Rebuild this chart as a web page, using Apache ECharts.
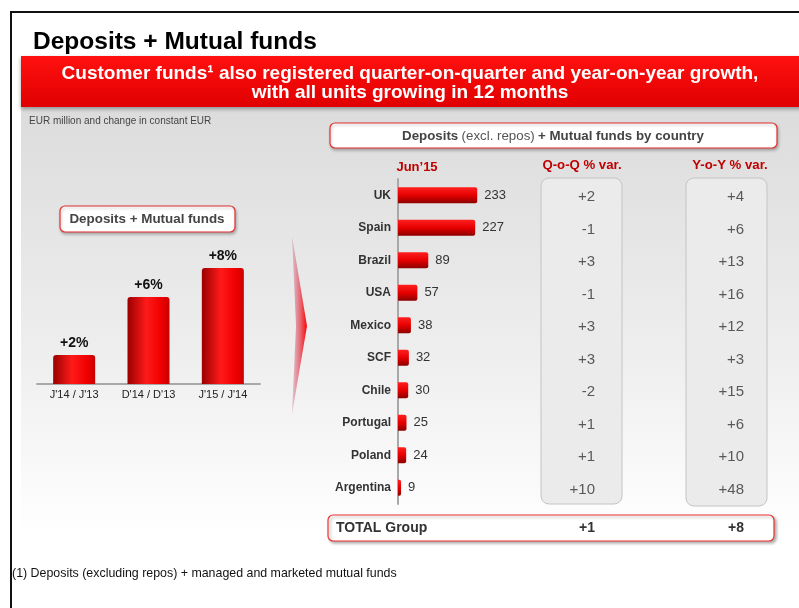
<!DOCTYPE html>
<html lang="en">
<head>
<meta charset="UTF-8">
<title>Deposits + Mutual funds</title>
<script src="https://cdn.jsdelivr.net/npm/echarts@6/dist/echarts.min.js"></script>
</head>
<body style="margin:0;background:#fff">
<div id="container" style="width:799px;height:608px"></div>
<script type="text/javascript">
// growth of deposits + mutual funds, left chart
var periods = ["J'14 / J'13", "D'14 / D'13", "J'15 / J'14"];
var growth = [2, 6, 8];

// by country, Jun'15 (EUR bn)
var countries = ['UK', 'Spain', 'Brazil', 'USA', 'Mexico', 'SCF', 'Chile', 'Portugal', 'Poland', 'Argentina'];
var jun15 = [233, 227, 89, 57, 38, 32, 30, 25, 24, 9];
var qoq = [2, -1, 3, -1, 3, 3, -2, 1, 1, 10];
var yoy = [4, 6, 13, 16, 12, 3, 15, 6, 10, 48];

var totalName = 'TOTAL Group';
var totalQoq = 1;
var totalYoy = 8;

var font = '"Liberation Sans", Arial, sans-serif';

function signed(v) {
    return (v > 0 ? '+' : '') + v;
}

var dom = document.getElementById('container');
var myChart = echarts.init(dom);

// vertical bars: dark left edge, bright centre
var vBarColor = new echarts.graphic.LinearGradient(0, 0, 1, 0, [
    {offset: 0, color: '#9a0000'},
    {offset: 0.45, color: '#ff1a1a'},
    {offset: 0.8, color: '#f00000'},
    {offset: 1, color: '#c80000'}
]);
// horizontal bars: bright top, dark bottom
var hBarColor = new echarts.graphic.LinearGradient(0, 0, 0, 1, [
    {offset: 0, color: '#ff2020'},
    {offset: 0.5, color: '#e60000'},
    {offset: 1, color: '#8c0000'}
]);

var tableLabel = function (arr) {
    return {
        show: true,
        position: 'left',
        distance: 0,
        offset: [0, 2],
        fontFamily: font,
        fontSize: 15,
        color: '#333',
        formatter: function (p) { return signed(arr[p.dataIndex]); }
    };
};

var option = {
    animation: false,
    textStyle: {fontFamily: font},
    graphic: [
        // frame
        {type: 'rect', shape: {x: 11, y: 12, width: 800, height: 610},
            style: {fill: 'none', stroke: '#111', lineWidth: 2}},
        // grey panel
        {type: 'rect', shape: {x: 21, y: 107, width: 790, height: 430},
            style: {fill: new echarts.graphic.LinearGradient(0, 0, 0, 1, [
                {offset: 0, color: '#dcdcdc'},
                {offset: 0.6, color: '#efefef'},
                {offset: 1, color: '#ffffff'}
            ])}},
        {type: 'text', x: 33, y: 42,
            style: {text: 'Deposits + Mutual funds', font: 'bold 24.5px ' + font, fill: '#000', verticalAlign: 'middle'}},
        // red banner
        {type: 'rect', shape: {x: 21, y: 56, width: 790, height: 51},
            style: {fill: new echarts.graphic.LinearGradient(0, 0, 0, 1, [
                {offset: 0, color: '#ff1010'},
                {offset: 1, color: '#e00000'}
            ]), shadowColor: 'rgba(0,0,0,0.35)', shadowBlur: 4, shadowOffsetY: 2}},
        {type: 'text', x: 410, y: 83,
            style: {text: 'Customer funds\u00b9 also registered quarter-on-quarter and year-on-year growth,\nwith all units growing in 12 months',
                font: 'bold 19px ' + font, fill: '#fff', align: 'center', verticalAlign: 'middle', lineHeight: 19}},
        {type: 'text', left: 29, top: 116,
            style: {text: 'EUR million and change in constant EUR', font: '10px ' + font, fill: '#444'}},
        // left caption box
        {type: 'rect', shape: {x: 60, y: 206, width: 175, height: 26, r: 5},
            style: {fill: '#fff', stroke: '#e03030', lineWidth: 1.2, shadowColor: 'rgba(0,0,0,0.25)', shadowBlur: 3, shadowOffsetX: 1, shadowOffsetY: 2}},
        {type: 'text', x: 147, y: 219,
            style: {text: 'Deposits + Mutual funds', font: 'bold 13.4px ' + font, fill: '#444', align: 'center', verticalAlign: 'middle'}},
        // chevron arrow
        {type: 'polygon', shape: {points: [[292, 236], [307, 326], [292, 414], [296, 326]]},
            style: {fill: new echarts.graphic.LinearGradient(0, 0, 1, 0, [
                {offset: 0, color: 'rgba(200,120,150,0.4)'},
                {offset: 1, color: '#ff0000'}
            ])}},
        // right caption box
        {type: 'rect', shape: {x: 330, y: 123, width: 447, height: 25, r: 5},
            style: {fill: '#fff', stroke: '#e03030', lineWidth: 1.2, shadowColor: 'rgba(0,0,0,0.25)', shadowBlur: 3, shadowOffsetX: 1, shadowOffsetY: 2}},
        {type: 'text', x: 553, y: 136,
            style: {text: '{b|Deposits} {n|(excl. repos)} {b|+ Mutual funds by country}', align: 'center', verticalAlign: 'middle',
                rich: {b: {font: 'bold 13.3px ' + font, fill: '#444'}, n: {font: '13.3px ' + font, fill: '#555'}}}},
        // column heads
        {type: 'text', x: 417, y: 167,
            style: {text: 'Jun\u201915', font: 'bold 13px ' + font, fill: '#c00000', align: 'center', verticalAlign: 'middle'}},
        {type: 'text', x: 582, y: 165,
            style: {text: 'Q-o-Q % var.', font: 'bold 13.2px ' + font, fill: '#c00000', align: 'center', verticalAlign: 'middle'}},
        {type: 'text', x: 730, y: 165,
            style: {text: 'Y-o-Y % var.', font: 'bold 13.2px ' + font, fill: '#c00000', align: 'center', verticalAlign: 'middle'}},
        // table boxes
        {type: 'rect', shape: {x: 541, y: 178, width: 81, height: 326, r: 8},
            style: {fill: '#ebebeb', stroke: '#c4c4c4', lineWidth: 1}},
        {type: 'rect', shape: {x: 686, y: 178, width: 81, height: 328, r: 8},
            style: {fill: '#ebebeb', stroke: '#c4c4c4', lineWidth: 1}},
        // total row
        {type: 'rect', shape: {x: 328, y: 515, width: 446, height: 26, r: 5},
            style: {fill: '#fff', stroke: '#f03030', lineWidth: 1.2, shadowColor: 'rgba(0,0,0,0.3)', shadowBlur: 3, shadowOffsetX: 2, shadowOffsetY: 2}},
        {type: 'text', x: 336, y: 528,
            style: {text: totalName, font: 'bold 14px ' + font, fill: '#333', verticalAlign: 'middle'}},
        {type: 'text', x: 595, y: 528,
            style: {text: signed(totalQoq), font: 'bold 14px ' + font, fill: '#333', align: 'right', verticalAlign: 'middle'}},
        {type: 'text', x: 744, y: 528,
            style: {text: signed(totalYoy), font: 'bold 14px ' + font, fill: '#333', align: 'right', verticalAlign: 'middle'}},
        {type: 'text', x: 12, y: 574,
            style: {text: '(1) Deposits (excluding repos) + managed and marketed mutual funds', font: '12.4px ' + font, fill: '#111', verticalAlign: 'middle'}}
    ],
    grid: [
        {left: 37, width: 223, top: 239, height: 145},
        {left: 398, width: 102, top: 179, height: 325},
        {left: 541, width: 54, top: 179, height: 325},
        {left: 686, width: 58, top: 179, height: 325}
    ],
    xAxis: [
        {gridIndex: 0, type: 'category', data: periods,
            axisLine: {lineStyle: {color: '#a8a8a8', width: 2}}, axisTick: {show: false},
            axisLabel: {color: '#222', fontSize: 11, margin: 5}},
        {gridIndex: 1, type: 'value', min: 0, max: 300, show: false},
        {gridIndex: 2, type: 'value', min: 0, max: 1, show: false},
        {gridIndex: 3, type: 'value', min: 0, max: 1, show: false}
    ],
    yAxis: [
        {gridIndex: 0, type: 'value', min: 0, max: 10, show: false},
        {gridIndex: 1, type: 'category', data: countries, inverse: true,
            axisLine: {lineStyle: {color: '#a8a8a8', width: 2}}, axisTick: {show: false},
            axisLabel: {color: '#333', fontSize: 12, fontWeight: 'bold', margin: 7}},
        {gridIndex: 2, type: 'category', data: countries, inverse: true, show: false},
        {gridIndex: 3, type: 'category', data: countries, inverse: true, show: false}
    ],
    series: [
        {type: 'bar', xAxisIndex: 0, yAxisIndex: 0, data: growth, barWidth: 42,
            itemStyle: {color: vBarColor, borderRadius: [3, 3, 0, 0]},
            label: {show: true, position: 'top', distance: 5, color: '#111', fontSize: 14, fontWeight: 'bold',
                formatter: function (p) { return signed(p.value) + '%'; }}},
        {type: 'bar', xAxisIndex: 1, yAxisIndex: 1, data: jun15, barWidth: 16,
            itemStyle: {color: hBarColor, borderRadius: [0, 2, 2, 0]},
            label: {show: true, position: 'right', distance: 7, color: '#333', fontSize: 13}},
        {type: 'scatter', xAxisIndex: 2, yAxisIndex: 2, symbolSize: 0,
            data: countries.map(function (c) { return [1, c]; }), label: tableLabel(qoq)},
        {type: 'scatter', xAxisIndex: 3, yAxisIndex: 3, symbolSize: 0,
            data: countries.map(function (c) { return [1, c]; }), label: tableLabel(yoy)}
    ]
};

myChart.setOption(option);
</script>
</body>
</html>
